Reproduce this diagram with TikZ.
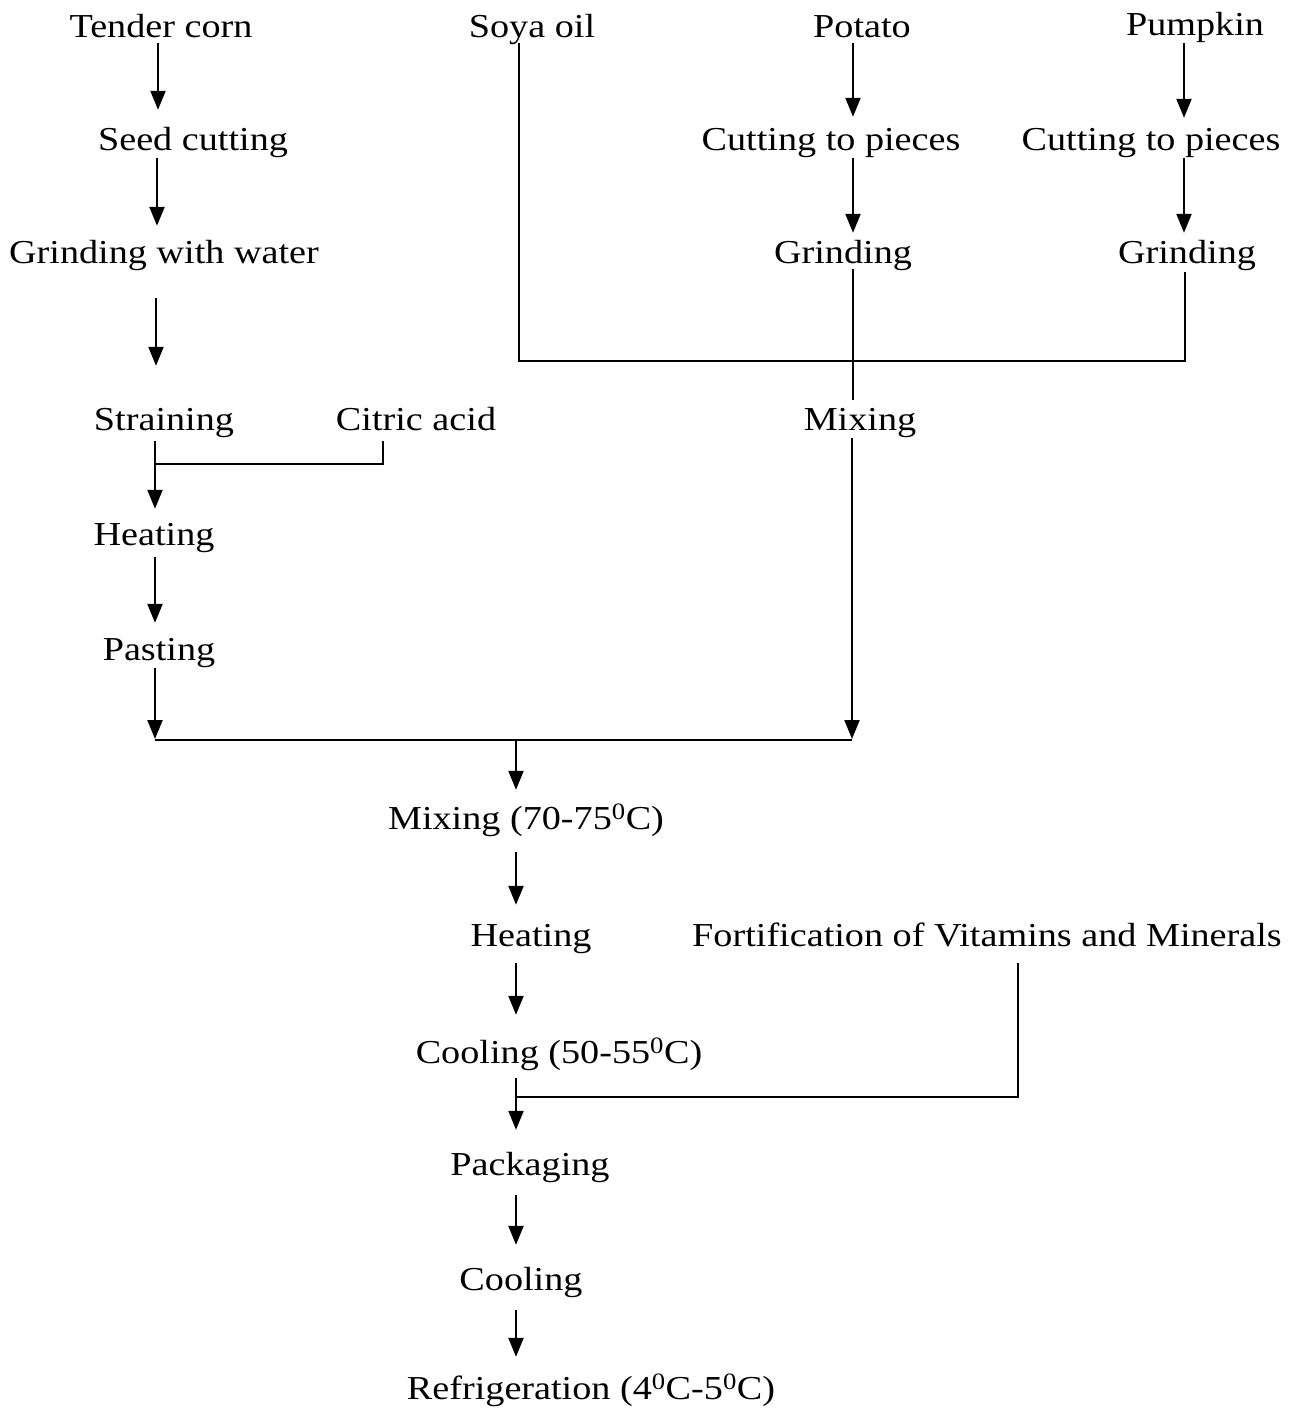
\documentclass[tikz,border=0pt]{standalone}
\usepackage{fontspec}
\setmainfont[FakeStretch=1.14]{Liberation Serif}
\usetikzlibrary{arrows.meta,calc}
\begin{document}
\begin{tikzpicture}[x=1pt,y=-1pt,
  lbl/.style={inner sep=0pt, text height=22pt, text depth=6pt, anchor=base,
              font=\fontsize{33.5}{36}\selectfont},
  ln/.style={line width=2.2pt},
  arr/.style={ln, -{Triangle[length=19pt,width=15pt]}}]
\useasboundingbox (0,0) rectangle (1297,1416);

% ---- nodes ----
\node[lbl] (tc)  at (161,37)   {Tender corn};
\node[lbl] (so)  at (532,37)   {Soya oil};
\node[lbl] (po)  at (862,37)   {Potato};
\node[lbl] (pu)  at (1195,35)  {Pumpkin};
\node[lbl] (sc)  at (193,150)  {Seed cutting};
\node[lbl] (cp1) at (831,150)  {Cutting to pieces};
\node[lbl] (cp2) at (1151,150) {Cutting to pieces};
\node[lbl] (gw)  at (164,263)  {Grinding with water};
\node[lbl] (g1)  at (843,263)  {Grinding};
\node[lbl] (g2)  at (1187,263) {Grinding};
\node[lbl] (st)  at (164,430)  {Straining};
\node[lbl] (ca)  at (416,430)  {Citric acid};
\node[lbl] (mx)  at (860,430)  {Mixing};
\node[lbl] (he1) at (154,545)  {Heating};
\node[lbl] (pa)  at (159,660)  {Pasting};
\node[lbl] (mx2) at (526,829)  {Mixing (70-75\textsuperscript{0}C)};
\node[lbl] (he2) at (531,946)  {Heating};
\node[lbl] (fo)  at (987,946)  {Fortification of Vitamins and Minerals};
\node[lbl] (co1) at (559,1063) {Cooling (50-55\textsuperscript{0}C)};
\node[lbl] (pk)  at (530,1175) {Packaging};
\node[lbl] (co2) at (521,1290) {Cooling};
\node[lbl] (rf)  at (591,1399) {Refrigeration (4\textsuperscript{0}C-5\textsuperscript{0}C)};

% ---- junction coordinates ----
\coordinate (cA) at (158,0);
\coordinate (cB) at (157,0);
\coordinate (cC) at (156,0);
\coordinate (j1) at (155,464);
\coordinate (cj) at (383,464);
\coordinate (j2) at (155,740);
\coordinate (j3) at (852,740);
\coordinate (jm) at (516,740);
\coordinate (cs) at (519,361);
\coordinate (cg) at (1185,361);
\coordinate (cP) at (853,0);
\coordinate (cQ) at (1184,0);
\coordinate (cM) at (516,0);
\coordinate (jf) at (516,1097);
\coordinate (cf) at (1018,1097);

% ---- left column ----
\draw[arr, shorten >=18pt] (tc.south -| cA) -- (sc.north -| cA);
\draw[arr, shorten <=2pt, shorten >=15pt] (sc.south -| cB) -- (gw.north -| cB);
\draw[arr, shorten <=29pt, shorten >=42pt] (gw.south -| cC) -- (st.north -| cC);
\draw[ln, shorten <=5pt] (st.south -| j1) -- (j1);
\draw[ln] ($(ca.south -| cj)+(0,5)$) -- (cj) -- (j1);
\draw[arr, shorten >=14pt] (j1) -- (he1.north -| j1);
\draw[arr, shorten <=6pt, shorten >=15pt] (he1.south -| j1) -- (pa.north -| j1);
\draw[arr, shorten <=2pt, shorten >=1pt] (pa.south -| j2) -- (j2);
\draw[ln] (j2) -- (j3);

% ---- soya / potato / pumpkin ----
\draw[ln] (so.south -| cs) -- (cs) -- (cg) -- ($(g2.south -| cg)+(0,3)$);
\draw[arr, shorten >=11pt] (po.south -| cP) -- (cp1.north -| cP);
\draw[arr, shorten <=2pt, shorten >=8pt] (cp1.south -| cP) -- (g1.north -| cP);
\draw[ln, shorten >=8pt] (g1.south -| cP) -- (mx.north -| cP);
\draw[arr, shorten <=2pt, shorten >=10pt] (pu.south -| cQ) -- (cp2.north -| cQ);
\draw[arr, shorten <=2pt, shorten >=8pt] (cp2.south -| cQ) -- (g2.north -| cQ);
\draw[arr, shorten <=2pt, shorten >=1pt] (mx.south -| j3) -- (j3);

% ---- main column ----
\draw[arr, shorten >=17pt] (jm) -- (mx2.north -| jm);
\draw[arr, shorten <=17pt, shorten >=19pt] (mx2.south -| cM) -- (he2.north -| cM);
\draw[arr, shorten <=11pt, shorten >=26pt] (he2.south -| cM) -- (co1.north -| cM);
\draw[arr, shorten <=9pt, shorten >=23pt] (co1.south -| cM) -- (pk.north -| cM);
\draw[ln, shorten <=11pt] (fo.south -| cf) -- (cf) -- (jf);
\draw[arr, shorten <=14pt, shorten >=23pt] (pk.south -| cM) -- (co2.north -| cM);
\draw[arr, shorten <=14pt, shorten >=20pt] (co2.south -| cM) -- (rf.north -| cM);
\end{tikzpicture}
\end{document}
